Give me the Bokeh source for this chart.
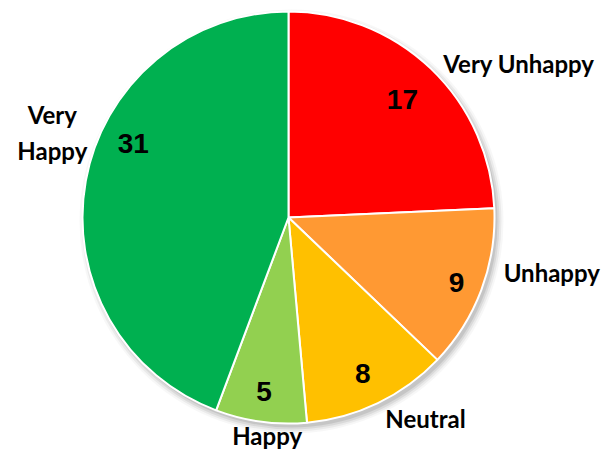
import math
from bokeh.plotting import figure
from bokeh.models import Range1d, ColumnDataSource
from bokeh.core.properties import value
from bokeh.embed import file_html
from bokeh.resources import INLINE

# ---- data ----
categories = ["Very Unhappy", "Unhappy", "Neutral", "Happy", "Very Happy"]
counts = [17, 9, 8, 5, 31]
colors = ["#FF0000", "#FF9933", "#FFC000", "#92D050", "#00B050"]

# ---- layout (label placement, polar: degrees clockwise from top, radius in px) ----
value_label_polar = [(44, 164), (111, 180), (154.6, 173), (188, 176), (295.5, 172)]
cat_label_polar = [(56.3, 277), (101.8, 269), (145.7, 243), (185.6, 219), (289.8, 251)]

W, H = 605, 454
p = figure(width=W, height=H, x_range=Range1d(0, W), y_range=Range1d(0, H),
           output_backend="svg", toolbar_location=None, min_border=0)
p.axis.visible = False
p.grid.visible = False
p.outline_line_color = None
p.background_fill_color = "white"

cx, cy, R = 288, 237, 206

# soft shadow
for dr, a in [(6, 0.03), (4, 0.05), (2, 0.07), (0, 0.09)]:
    p.circle(x=[cx + 3], y=[cy - 4], radius=R + dr, fill_color="black", fill_alpha=a,
             line_color=None)

total = sum(counts)
starts, ends = [], []
cum = 0
for c in counts:
    starts.append(math.pi / 2 - 2 * math.pi * cum / total)
    cum += c
    ends.append(math.pi / 2 - 2 * math.pi * cum / total)

src = ColumnDataSource(dict(start=starts, end=ends, color=colors))
p.wedge(x=cx, y=cy, radius=R, start_angle="start", end_angle="end", direction="clock",
        fill_color="color", line_color="white", line_width=2, source=src)

def polar(a, r):
    t = math.radians(a)
    return cx + r * math.sin(t), cy + r * math.cos(t)

vx, vy = zip(*[polar(a, r) for a, r in value_label_polar])
p.text(x=list(vx), y=list(vy), text=[str(c) for c in counts], text_align="center",
       text_baseline="middle", text_font=value("Liberation Sans"), text_font_style="bold",
       text_font_size="28px", text_color="black")

lx, ly, lt = [], [], []
for (a, r), name in zip(cat_label_polar, categories):
    x, y = polar(a, r)
    if name == "Very Happy":
        lx += [x, x]
        ly += [y + 18, y - 18]
        lt += ["Very", "Happy"]
    else:
        lx.append(x); ly.append(y); lt.append(name)
p.text(x=lx, y=ly, text=lt, text_align="center", text_baseline="middle",
       text_font=value("Lato"), text_font_style="bold", text_font_size="24px",
       text_color="black")

open("out.html", "w").write(file_html(p, INLINE))
